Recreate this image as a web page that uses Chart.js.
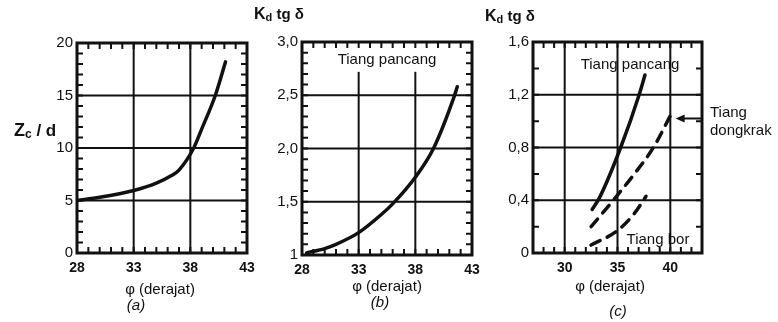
<!DOCTYPE html>
<html>
<head>
<meta charset="utf-8">
<script src="https://cdn.jsdelivr.net/npm/chart.js@4.4.1/dist/chart.umd.min.js"></script>
<style>
  html, body { margin: 0; padding: 0; background: #fff; }
  #wrap { position: relative; width: 778px; height: 322px; overflow: hidden; background: #fff; }
  #wrap canvas { position: absolute; left: 0; top: 0; }
</style>
</head>
<body>
<div id="wrap">
  <canvas id="chartA" width="778" height="322"></canvas>
  <canvas id="chartB" width="778" height="322"></canvas>
  <canvas id="chartC" width="778" height="322"></canvas>
</div>
<script>
// (a) Zc/d against phi
const phiA = [28, 30, 33, 35, 36.3, 37, 38.3, 39, 40.2, 41.1];
const zcA = [5.0, 5.3, 5.95, 6.65, 7.35, 7.9, 10.0, 11.8, 15.0, 18.2];
const xTicksA = [28, 33, 38, 43];
const xLabelsA = ['28', '33', '38', '43'];
const yTicksA = [0, 5, 10, 15, 20];
const yLabelsA = ['0', '5', '10', '15', '20'];

// (b) Kd tg delta, tiang pancang
const phiB = [28.4, 30, 31, 33, 35, 36, 38, 39.6, 41.4, 41.7];
const kdB = [1.02, 1.06, 1.1, 1.21, 1.38, 1.48, 1.73, 2.0, 2.48, 2.58];
const xTicksB = [28, 33, 38, 43];
const xLabelsB = ['28', '33', '38', '43'];
const yTicksB = [1, 1.5, 2, 2.5, 3];
const yLabelsB = ['1', '1,5', '2,0', '2,5', '3,0'];

// (c) Kd tg delta, three pile types
const phiPancang = [32.6, 33.3, 35.3, 37.05, 37.6];
const kdPancang = [0.33, 0.42, 0.80, 1.20, 1.35];
const phiDongkrak = [32.5, 34.6, 36.6, 38.4, 40.0];
const kdDongkrak = [0.20, 0.40, 0.60, 0.80, 1.04];
const phiBor = [32.5, 35, 36.6, 37.7];
const kdBor = [0.06, 0.17, 0.30, 0.43];
const xTicksC = [30, 35, 40];
const xLabelsC = ['30', '35', '40'];
const yTicksC = [0, 0.4, 0.8, 1.2, 1.6];
const yLabelsC = ['0', '0,4', '0,8', '1,2', '1,6'];

const INK = '#111';
const FONT = "'Liberation Sans', Arial, sans-serif";

function range(a, b, step) {
  const out = [];
  for (let v = a; v <= b + 1e-9; v += step) out.push(+v.toFixed(4));
  return out;
}

function drawParts(ctx, item) {
  let x = item.x;
  const style = item.italic ? 'italic ' : '';
  const weight = item.bold ? 'bold ' : '';
  let total = 0;
  item.parts.forEach(p => {
    ctx.font = style + weight + p.size + 'px ' + FONT;
    total += ctx.measureText(p.t).width;
  });
  if (item.align === 'center') x -= total / 2;
  item.parts.forEach(p => {
    ctx.font = style + weight + p.size + 'px ' + FONT;
    ctx.fillText(p.t, x, item.y + (p.dy || 0));
    x += ctx.measureText(p.t).width;
  });
}

const decor = {
  id: 'decor',
  beforeDatasetsDraw(chart, args, o) {
    const { ctx, chartArea: a, scales: { x, y } } = chart;
    ctx.save();
    ctx.strokeStyle = INK;
    ctx.lineWidth = 2;
    o.xGrid.forEach(v => {
      const px = x.getPixelForValue(v);
      const top = o.xGridTop != null ? y.getPixelForValue(o.xGridTop) : a.top;
      ctx.beginPath(); ctx.moveTo(px, top); ctx.lineTo(px, a.bottom); ctx.stroke();
    });
    o.yGrid.forEach(v => {
      const py = y.getPixelForValue(v);
      ctx.beginPath(); ctx.moveTo(a.left, py); ctx.lineTo(a.right, py); ctx.stroke();
    });
    ctx.restore();
  },
  afterDatasetsDraw(chart, args, o) {
    const { ctx, chartArea: a, scales: { x, y } } = chart;
    ctx.save();
    ctx.strokeStyle = INK;
    ctx.lineWidth = 2;
    const L = 6;
    range(x.min, x.max, o.xMinor).forEach(v => {
      const px = x.getPixelForValue(v);
      ctx.beginPath();
      ctx.moveTo(px, a.top); ctx.lineTo(px, a.top + L);
      ctx.moveTo(px, a.bottom); ctx.lineTo(px, a.bottom - L);
      ctx.stroke();
    });
    range(y.min, y.max, o.yMinor).forEach(v => {
      const py = y.getPixelForValue(v);
      ctx.beginPath();
      ctx.moveTo(a.left, py); ctx.lineTo(a.left + L, py);
      ctx.moveTo(a.right, py); ctx.lineTo(a.right - L, py);
      ctx.stroke();
    });
    ctx.lineWidth = 3;
    ctx.strokeRect(a.left, a.top, a.right - a.left, a.bottom - a.top);

    if (o.arrow) {
      const x0 = x.getPixelForValue(o.arrow.from[0]), y0 = y.getPixelForValue(o.arrow.from[1]);
      const x1 = x.getPixelForValue(o.arrow.to[0]), y1 = y.getPixelForValue(o.arrow.to[1]);
      ctx.lineWidth = 2;
      ctx.beginPath(); ctx.moveTo(x0, y0); ctx.lineTo(x1 + 6, y1); ctx.stroke();
      ctx.fillStyle = INK;
      ctx.beginPath();
      ctx.moveTo(x1, y1); ctx.lineTo(x1 + 9, y1 - 4); ctx.lineTo(x1 + 9, y1 + 4);
      ctx.closePath(); ctx.fill();
    }

    ctx.fillStyle = INK;
    ctx.textBaseline = 'middle';
    o.texts.forEach(t => drawParts(ctx, t));
    ctx.restore();
  }
};

function makePanel(id, cfg) {
  return new Chart(document.getElementById(id), {
    type: 'line',
    data: {
      datasets: cfg.series.map(s => ({
        data: s.x.map((v, i) => ({ x: v, y: s.y[i] })),
        borderColor: INK,
        borderWidth: 3.5,
        borderDash: s.dash || [],
        borderCapStyle: 'round',
        pointRadius: 0,
        fill: false,
        cubicInterpolationMode: 'monotone'
      }))
    },
    options: {
      responsive: false,
      animation: false,
      events: [],
      layout: { padding: cfg.pad },
      plugins: { legend: { display: false }, tooltip: { enabled: false }, decor: cfg.decor },
      scales: {
        x: {
          type: 'linear', min: cfg.xMin, max: cfg.xMax,
          afterBuildTicks: s => { s.ticks = cfg.xTicks.map(v => ({ value: v })); },
          afterFit: s => { s.height = 30; },
          grid: { display: false, drawTicks: false },
          border: { display: false },
          ticks: {
            autoSkip: false, maxRotation: 0, padding: 7, color: INK,
            font: { family: FONT, size: 14, weight: 'bold' },
            callback: (v, i) => cfg.xLabels[i]
          }
        },
        y: {
          type: 'linear', min: cfg.yMin, max: cfg.yMax,
          afterBuildTicks: s => { s.ticks = cfg.yTicks.map(v => ({ value: v })); },
          afterFit: s => { s.width = 40; },
          grid: { display: false, drawTicks: false },
          border: { display: false },
          ticks: {
            autoSkip: false, padding: 4, color: INK,
            font: { family: FONT, size: 15 },
            callback: (v, i) => cfg.yLabels[i]
          }
        }
      }
    },
    plugins: [decor]
  });
}

makePanel('chartA', {
  series: [{ x: phiA, y: zcA }],
  xMin: 28, xMax: 43, yMin: 0, yMax: 20,
  xTicks: xTicksA, xLabels: xLabelsA, yTicks: yTicksA, yLabels: yLabelsA,
  pad: { left: 37, right: 531, top: 43, bottom: 39 },
  decor: {
    xGrid: [33, 38], yGrid: [5, 10, 15], xMinor: 1, yMinor: 1,
    texts: [
      { x: 14, y: 131, bold: true, parts: [{ t: 'Z', size: 18 }, { t: 'c', size: 12, dy: 4 }, { t: ' / d', size: 17 }] },
      { x: 160, y: 290, align: 'center', parts: [{ t: 'φ (derajat)', size: 15 }] },
      { x: 136, y: 306, align: 'center', italic: true, parts: [{ t: '(a)', size: 15 }] }
    ]
  }
});

makePanel('chartB', {
  series: [{ x: phiB, y: kdB }],
  xMin: 28, xMax: 43, yMin: 1, yMax: 3,
  xTicks: xTicksB, xLabels: xLabelsB, yTicks: yTicksB, yLabels: yLabelsB,
  pad: { left: 262, right: 306, top: 42, bottom: 37 },
  decor: {
    xGrid: [33, 38], xGridTop: 2.72, yGrid: [1.5, 2, 2.5], xMinor: 1, yMinor: 0.1,
    texts: [
      { x: 254, y: 15, bold: true, parts: [{ t: 'K', size: 16 }, { t: 'd', size: 11, dy: 3 }, { t: ' tg δ', size: 15 }] },
      { x: 387, y: 60, align: 'center', parts: [{ t: 'Tiang pancang', size: 15 }] },
      { x: 387, y: 287, align: 'center', parts: [{ t: 'φ (derajat)', size: 15 }] },
      { x: 380, y: 303, align: 'center', italic: true, parts: [{ t: '(b)', size: 15 }] }
    ]
  }
});

makePanel('chartC', {
  series: [
    { x: phiPancang, y: kdPancang },
    { x: phiDongkrak, y: kdDongkrak, dash: [10, 8] },
    { x: phiBor, y: kdBor, dash: [10, 8] }
  ],
  xMin: 27, xMax: 43, yMin: 0, yMax: 1.6,
  xTicks: xTicksC, xLabels: xLabelsC, yTicks: yTicksC, yLabels: yLabelsC,
  pad: { left: 493, right: 76, top: 42, bottom: 39 },
  decor: {
    xGrid: [30, 35, 40], yGrid: [0.4, 0.8, 1.2], xMinor: 1, yMinor: 0.2,
    arrow: { from: [43.1, 1.02], to: [40.5, 1.02] },
    texts: [
      { x: 485, y: 17, bold: true, parts: [{ t: 'K', size: 16 }, { t: 'd', size: 11, dy: 3 }, { t: ' tg δ', size: 15 }] },
      { x: 630, y: 65, align: 'center', parts: [{ t: 'Tiang pancang', size: 15 }] },
      { x: 658, y: 240, align: 'center', parts: [{ t: 'Tiang bor', size: 15 }] },
      { x: 710, y: 113, parts: [{ t: 'Tiang', size: 15 }] },
      { x: 710, y: 131, parts: [{ t: 'dongkrak', size: 15 }] },
      { x: 610, y: 287, align: 'center', parts: [{ t: 'φ (derajat)', size: 15 }] },
      { x: 618, y: 312, align: 'center', italic: true, parts: [{ t: '(c)', size: 15 }] }
    ]
  }
});
</script>
</body>
</html>
